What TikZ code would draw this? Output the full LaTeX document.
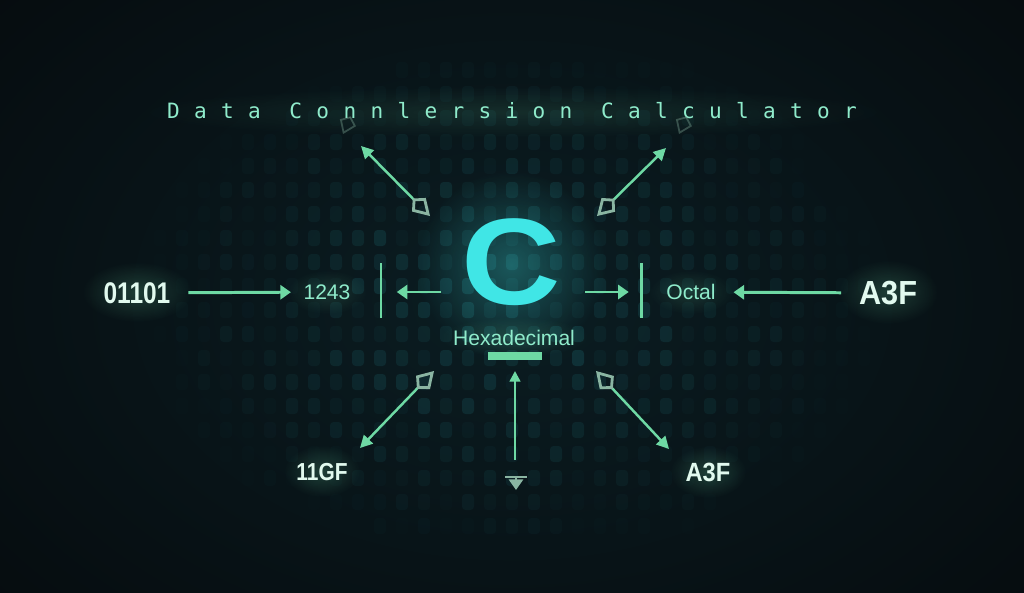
\documentclass[tikz,border=0pt]{standalone}
\usepackage{fontspec}
\setmainfont{Liberation Sans}
\newfontfamily\titlefont{DejaVu Sans Mono}
\usetikzlibrary{arrows.meta,fadings}
\definecolor{bgdark}{HTML}{050A0D}
\definecolor{bgmid}{HTML}{0B1D22}
\definecolor{mint}{HTML}{6ED9A4}
\definecolor{minttext}{HTML}{8FEBCB}
\definecolor{paletext}{HTML}{E2FAEF}
\definecolor{cyanC}{HTML}{40E6E6}
\definecolor{dotc}{HTML}{14444A}
\definecolor{hollow}{HTML}{8AB5A2}
\tikzfading[name=glowfade, inner color=transparent!15, outer color=transparent!100]
\newcommand\titletext{D\hfill a\hfill t\hfill a\hfill\hfill C\hfill o\hfill n\hfill n\hfill l\hfill e\hfill r\hfill s\hfill i\hfill o\hfill n\hfill\hfill C\hfill a\hfill l\hfill c\hfill u\hfill l\hfill a\hfill t\hfill o\hfill r}
\tikzset{
 bigwhite/.style={text=paletext, font=\fontsize{17}{17}\selectfont\bfseries, inner sep=0pt},
 smallwhite/.style={text=paletext, font=\fontsize{14}{14}\selectfont\bfseries, inner sep=0pt},
 midtext/.style={text=minttext, font=\fontsize{12}{12}\selectfont, inner sep=0pt},
 conn/.style={draw=mint, line width=1.7pt, -{Triangle[length=6pt,width=8pt]}},
 barline/.style={draw=mint, line width=1.7pt},
 diag/.style={draw=mint, line width=1.4pt},
 glow/.style={path fading=glowfade, fill opacity=#1},
}
\begin{document}
\begin{tikzpicture}[x=0.02cm,y=-0.02cm]
\useasboundingbox (0,0) rectangle (1024,592);
\clip (0,0) rectangle (1024,592);
\fill[bgdark] (0,0) rectangle (1024,592);
\shade[inner color=bgmid, outer color=bgdark] (512,300) ellipse (760 and 520);
% dot matrix
\pgfmathsetseed{7}
\foreach \i in {0,...,32} {
 \foreach \j in {0,...,19} {
  \pgfmathsetmacro\xx{160+22*\i}
  \pgfmathsetmacro\yy{70+24*\j}
  \pgfmathsetmacro\dd{sqrt(((\xx-512)/380)^2+((\yy-300)/270)^2)}
  \pgfmathsetmacro\op{max(0,1-\dd)*(0.2+0.6*rnd)}
  \fill[dotc, fill opacity=\op, rounded corners=2pt] (\xx-6,\yy-8) rectangle (\xx+6,\yy+8);
 }
}
% glows
\fill[cyanC, glow=0.35] (511,265) ellipse (95 and 95);
\fill[mint, glow=0.14] (513,112) ellipse (380 and 26);
\fill[mint, glow=0.25] (137,292) ellipse (55 and 30);
\fill[mint, glow=0.25] (888,292) ellipse (50 and 32);
\fill[mint, glow=0.18] (327,292) ellipse (40 and 22);
\fill[mint, glow=0.18] (691,292) ellipse (42 and 22);
\fill[mint, glow=0.2] (514,337) ellipse (75 and 20);
\fill[mint, glow=0.25] (322,471) ellipse (38 and 26);
\fill[mint, glow=0.25] (708,472) ellipse (38 and 26);

% title
\node[text=minttext, inner sep=0pt, font=\titlefont\fontsize{12}{12}\selectfont] (title) at (512,111) {\makebox[13.8cm][s]{\titletext}};
% ghost arrows under title
\coordinate (g1a) at (350,118); \coordinate (g1b) at (343,134);
\coordinate (g2a) at (686,118); \coordinate (g2b) at (679,134);
\draw[hollow, opacity=0.35, line width=1pt, -{Kite[open,length=11pt,width=10pt,inset=4pt]}] (g1a) -- (g1b);
\draw[hollow, opacity=0.35, line width=1pt, -{Kite[open,length=11pt,width=10pt,inset=4pt]}] (g2a) -- (g2b);

% centre C
\node[text=cyanC, inner sep=0pt, font=\fontsize{70}{70}\selectfont\bfseries] (C) at (511,262) {\scalebox{1.12}[1]{C}};
\node[midtext] (hex) at (514,338) {Hexadecimal};
\fill[mint] (488,352) rectangle (542,360);
\coordinate (hexbar) at (515,360);

% left row
\node[bigwhite] (bin) at (137,293) {\scalebox{0.82}[1]{01101}};
\node[midtext] (dec) at (327,292) {1243};
\coordinate (lbt) at (381,263); \coordinate (lbb) at (381,318); \coordinate (lbm) at (381,292);
\draw[barline] (lbt) -- (lbb);
\draw[conn, shorten <=10pt, shorten >=7pt] (bin) -- (dec);
\coordinate (cL) at (441,292);
\draw[conn, shorten >=9pt] (cL) -- (lbm);

% right row
\coordinate (rbt) at (641,263); \coordinate (rbb) at (641,318); \coordinate (rbm) at (641,292);
\draw[barline] (rbt) -- (rbb);
\coordinate (cR) at (585,292);
\draw[conn, shorten >=7pt] (cR) -- (rbm);
\node[midtext] (oct) at (691,292) {Octal};
\node[bigwhite, font=\fontsize{19}{19}\selectfont\bfseries] (hexR) at (888,293) {\scalebox{0.92}[1]{A3F}};
\draw[conn, shorten <=10pt, shorten >=10pt] (hexR) -- (oct);

% diagonals
\coordinate (ulo) at (361,146); \coordinate (uli) at (430,216);
\coordinate (uro) at (666,148); \coordinate (uri) at (597,216);
\coordinate (blo) at (360,448); \coordinate (bli) at (434,371);
\coordinate (bro) at (669,449); \coordinate (bri) at (596,371);
\tikzset{kh/.style={diag, {Triangle[length=7pt,width=7pt]}-{Kite[open,length=14pt,width=11pt,inset=5pt,color=hollow,line width=1.6pt]}}}
\draw[kh] (ulo) -- (uli);
\draw[kh] (uro) -- (uri);
\draw[kh] (blo) -- (bli);
\draw[kh] (bro) -- (bri);

% bottom centre
\coordinate (vb) at (515,460); \coordinate (vt) at (515,371);
\draw[diag, -{Triangle[length=6pt,width=6pt]}] (vb) -- (vt);
\coordinate (tl) at (505,477); \coordinate (tr) at (527,477); \coordinate (tm) at (516,477); \coordinate (td) at (516,490);
\draw[draw=hollow, line width=1.6pt] (tl) -- (tr);
\draw[draw=hollow, line width=1.4pt, -{Triangle[length=6pt,width=8pt]}] (tm) -- (td);

% bottom labels
\node[smallwhite] (hexL) at (322,472) {\scalebox{0.85}[1]{11GF}};
\node[smallwhite, font=\fontsize{15}{15}\selectfont\bfseries] (hexB) at (708,472) {\scalebox{0.9}[1]{A3F}};
\end{tikzpicture}
\end{document}
